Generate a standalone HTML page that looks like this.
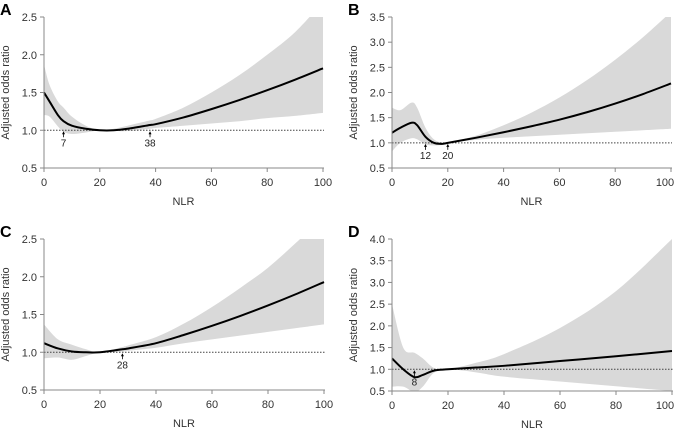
<!DOCTYPE html>
<html><head><meta charset="utf-8"><style>
body{margin:0;background:#fff;width:676px;height:431px;overflow:hidden}
text{font-family:"Liberation Sans",sans-serif}
</style></head><body>
<svg id="s" width="676" height="431"></svg>
<script>
// Panel A data
const aX=[0,2,5,7,10,15,20,25,30,38,40,50,60,70,80,90,100];
const aEst=[1.5,1.38,1.2,1.12,1.06,1.02,1.0,1.0,1.02,1.07,1.08,1.17,1.28,1.4,1.53,1.67,1.82];
const aLo=[1.2,1.18,1.05,0.98,0.95,0.97,1.0,0.99,0.99,1.02,1.03,1.06,1.09,1.12,1.16,1.19,1.23];
const aHi=[1.87,1.6,1.38,1.3,1.18,1.06,1.0,1.02,1.06,1.13,1.15,1.3,1.5,1.73,2.0,2.3,2.7];
const aMarks=[7,38];
// Panel B data
const bX=[0,3,7,9,12,15,18,20,30,40,50,60,70,80,90,100];
const bEst=[1.2,1.3,1.4,1.35,1.12,1.0,0.98,1.0,1.1,1.21,1.33,1.46,1.61,1.78,1.97,2.18];
const bLo=[0.83,1.0,1.09,1.07,0.97,0.95,0.96,1.0,1.06,1.1,1.13,1.16,1.19,1.22,1.25,1.28];
const bHi=[1.7,1.65,1.8,1.7,1.3,1.07,1.0,1.0,1.14,1.35,1.6,1.9,2.25,2.65,3.1,3.6];
const bMarks=[12,20];
// Panel C data
const cX=[0,5,10,15,20,28,30,40,50,60,70,80,90,100];
const cEst=[1.12,1.05,1.01,1.0,1.0,1.04,1.05,1.12,1.23,1.35,1.48,1.62,1.77,1.93];
const cLo=[0.92,0.93,0.9,0.95,1.0,1.01,1.02,1.06,1.12,1.17,1.22,1.27,1.32,1.37];
const cHi=[1.37,1.17,1.1,1.04,1.0,1.07,1.09,1.2,1.38,1.6,1.85,2.12,2.45,2.8];
const cMarks=[28];
// Panel D data
const dX=[0,4,8,11,15,20,30,40,60,80,100];
const dEst=[1.25,1.0,0.82,0.87,0.97,1.0,1.04,1.08,1.19,1.3,1.42];
const dLo=[0.6,0.6,0.48,0.6,0.92,1.0,0.93,0.83,0.72,0.61,0.5];
const dHi=[2.5,1.5,1.38,1.25,1.03,1.0,1.15,1.35,1.95,2.8,4.0];
const dMarks=[8];
const xTicks=[0,20,40,60,80,100];
const yTicksA=[0.5,1.0,1.5,2.0,2.5];
const yTicksB=[0.5,1.0,1.5,2.0,2.5,3.0,3.5];
const yTicksD=[0.5,1.0,1.5,2.0,2.5,3.0,3.5,4.0];

const NS="http://www.w3.org/2000/svg";
const svg=document.getElementById('s');
function el(t,a,p){const e=document.createElementNS(NS,t);for(const k in a)e.setAttribute(k,a[k]);(p||svg).appendChild(e);return e;}
function smooth(pts){let d="M"+pts[0][0]+","+pts[0][1];for(let i=0;i<pts.length-1;i++){const p0=pts[i-1]||pts[i],p1=pts[i],p2=pts[i+1],p3=pts[i+2]||p2;
d+=" C"+(p1[0]+(p2[0]-p0[0])/6)+","+(p1[1]+(p2[1]-p0[1])/6)+" "+(p2[0]-(p3[0]-p1[0])/6)+","+(p2[1]-(p3[1]-p1[1])/6)+" "+p2[0]+","+p2[1];}return d;}
function panel(id,letter,cfg,X,E,L,H,marks,ticks){
  const g=el('g',{});
  
  
  const x0=cfg.x0,x1=cfg.x1,yT=cfg.yT,yB=cfg.yB,ymin=ticks[0],ymax=ticks[ticks.length-1];
  const sx=v=>x0+(x1-x0)*v/100, sy=v=>yB-(yB-yT)*(v-ymin)/(ymax-ymin);
  const cp=el('clipPath',{id:'c'+id},g);el('rect',{x:x0,y:yT,width:x1-x0+2,height:yB-yT},cp);
  const up=X.map((x,i)=>[sx(x),sy(H[i])]), lo=X.map((x,i)=>[sx(x),sy(L[i])]).reverse();
  const band=el('path',{d:smooth(up)+" L"+lo[0][0]+","+lo[0][1]+smooth(lo).slice(smooth(lo).indexOf(' C'))+"Z",fill:'#d9d9d9','clip-path':'url(#c'+id+')'},g);
  
  
  const ref=el('line',{x1:x0,x2:x1+1,y1:sy(1),y2:sy(1),stroke:'#444','stroke-width':1,'stroke-dasharray':'1.5,1.5'},g);
  
  
  const ln=el('path',{d:smooth(X.map((x,i)=>[sx(x),sy(E[i])])),fill:'none',stroke:'#000','stroke-width':2},g);
  
  
  el('line',{x1:x0,x2:x0,y1:yT,y2:yB,stroke:'#888'},g);
  el('line',{x1:x0,x2:x1+1,y1:yB,y2:yB,stroke:'#888'},g);
  ticks.forEach(t=>{el('line',{x1:x0-4,x2:x0,y1:sy(t),y2:sy(t),stroke:'#888'},g);
    const tx=el('text',{x:x0-7,y:sy(t)+4,'text-anchor':'end','font-size':11,fill:'#333'},g);tx.textContent=t.toFixed(1);
    
    });
  xTicks.forEach(t=>{el('line',{x1:sx(t),x2:sx(t),y1:yB,y2:yB+4,stroke:'#888'},g);
    const tx=el('text',{x:Math.min(sx(t),674-9),y:yB+18,'text-anchor':'middle','font-size':11,fill:'#333'},g);tx.textContent=t;
    
    });
  marks.forEach(m=>{const y=sy(1);el('line',{x1:sx(m),x2:sx(m),y1:y+2,y2:y+7,stroke:'#000','stroke-width':0.8},g);
    el('path',{d:`M${sx(m)-1.5},${y+4} L${sx(m)},${y+1} L${sx(m)+1.5},${y+4}Z`,fill:'#000'},g);
    const tx=el('text',{x:sx(m),y:y+16,'text-anchor':'middle','font-size':10,fill:'#222'},g);tx.textContent=m;
    
    });
  const xl=el('text',{x:(x0+x1)/2,y:yB+37,'text-anchor':'middle','font-size':11,fill:'#333'},g);xl.textContent='NLR';
  
  
  const yc=(yT+yB)/2, yx=x0-35;
  const yl=el('text',{x:yx,y:yc,transform:`rotate(-90 ${yx} ${yc})`,'text-anchor':'middle','font-size':11,fill:'#333'},g);yl.textContent='Adjusted odds ratio';
  
  
  const lt=el('text',{x:x0-44,y:yT-2,'font-size':16,'font-weight':'bold',fill:'#000'},g);lt.textContent=letter;
  
  
}
panel('a','A',{x0:44,x1:323,yT:17,yB:168},aX,aEst,aLo,aHi,aMarks,yTicksA);
panel('b','B',{x0:392,x1:671,yT:17,yB:168},bX,bEst,bLo,bHi,bMarks,yTicksB);
panel('c','C',{x0:44,x1:324,yT:239,yB:390},cX,cEst,cLo,cHi,cMarks,yTicksA);
panel('d','D',{x0:392,x1:672,yT:239,yB:391},dX,dEst,dLo,dHi,dMarks,yTicksD);
</script>
</body></html>
